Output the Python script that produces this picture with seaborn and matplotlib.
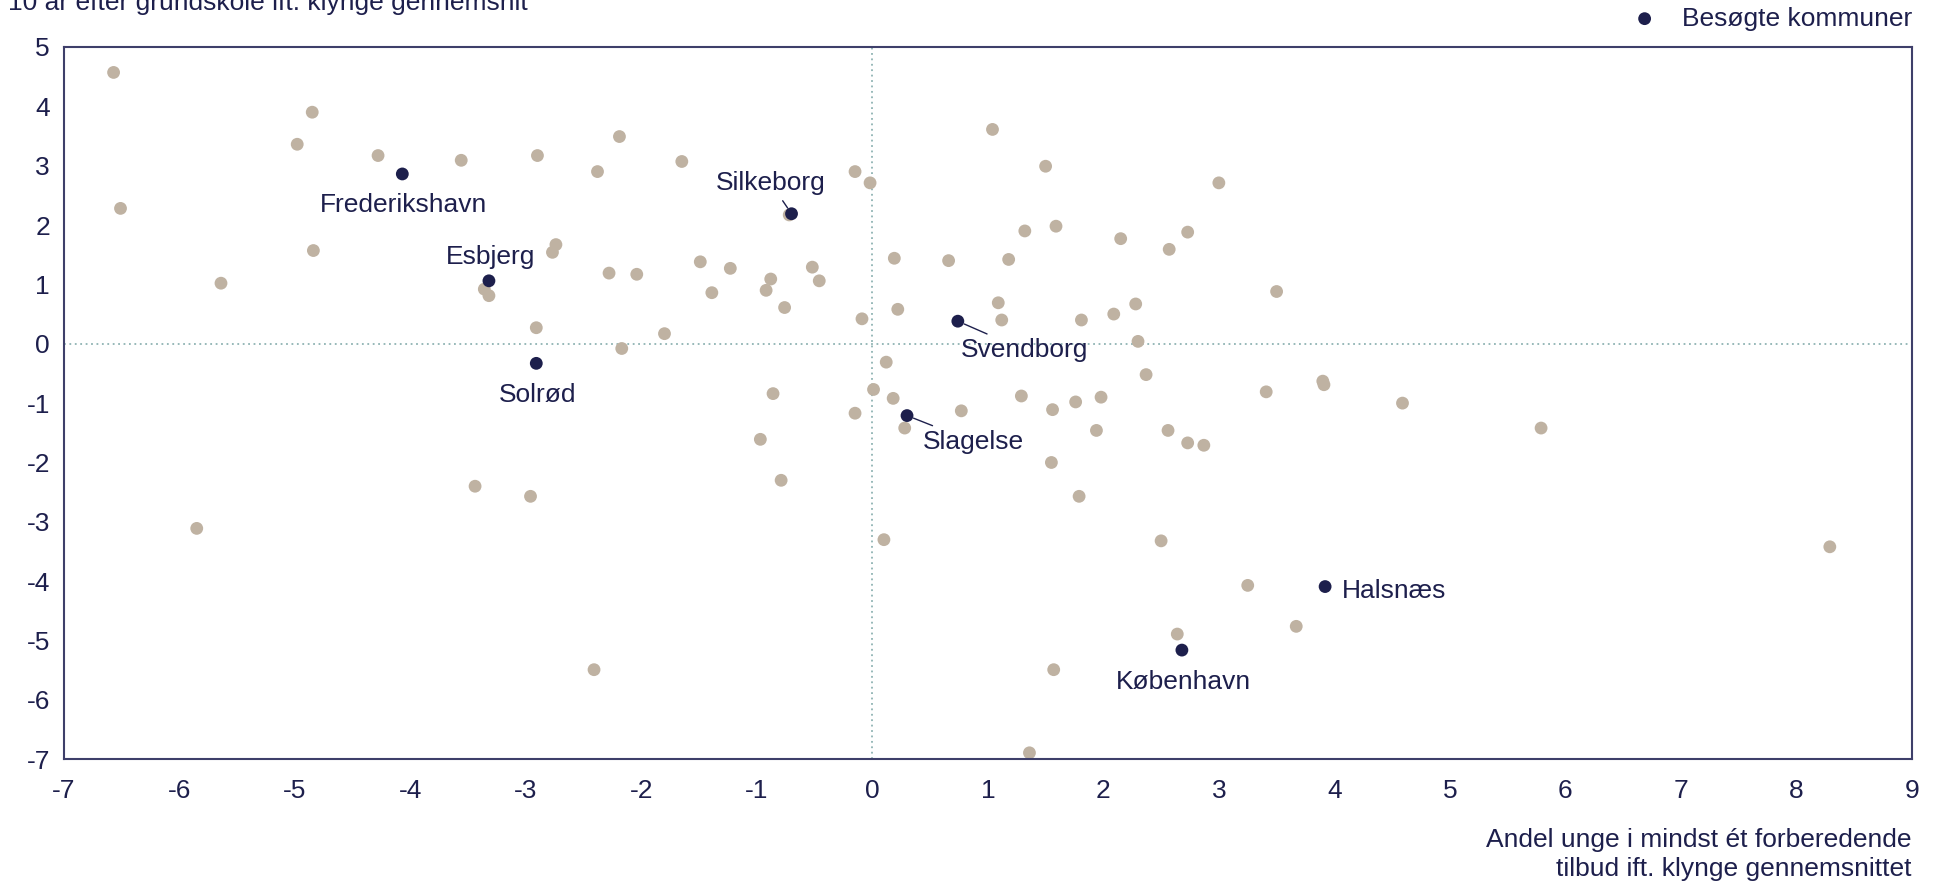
import pandas as pd
import matplotlib.pyplot as plt
import seaborn as sns

# Andel unge i forberedende tilbud (x) vs. uddannelse/job 10 år efter (y), ift. klynge gennemsnit
other_x = [-6.57, -6.51, -5.64, -5.85, -4.98, -4.85, -4.84, -4.28, -3.56, -3.36,
           -3.32, -3.44, -2.90, -2.91, -2.96, -2.77, -2.74, -2.38, -2.28, -2.19,
           -2.17, -2.04, -2.41, -1.80, -1.65, -1.49, -1.39, -1.23, -0.97, -0.92,
           -0.88, -0.86, -0.79, -0.76, -0.72, -0.52, -0.46, -0.15, -0.09, -0.15,
           -0.02, 0.01, 0.10, 0.12, 0.18, 0.19, 0.22, 0.28, 0.66, 0.77,
           1.04, 1.09, 1.12, 1.18, 1.29, 1.32, 1.50, 1.55, 1.56, 1.59,
           1.57, 1.36, 1.76, 1.79, 1.81, 1.94, 1.98, 2.09, 2.15, 2.28,
           2.30, 2.37, 2.50, 2.57, 2.56, 2.64, 2.73, 2.73, 2.87, 3.00,
           3.25, 3.41, 3.50, 3.67, 3.90, 3.91, 4.59, 5.79, 8.29]
other_y = [4.57, 2.28, 1.02, -3.11, 3.36, 3.90, 1.57, 3.17, 3.09, 0.92,
           0.81, -2.40, 3.17, 0.27, -2.57, 1.54, 1.67, 2.90, 1.19, 3.49,
           -0.08, 1.17, -5.49, 0.17, 3.07, 1.38, 0.86, 1.27, -1.61, 0.90,
           1.09, -0.84, -2.30, 0.61, 2.17, 1.29, 1.06, 2.90, 0.42, -1.17,
           2.71, -0.77, -3.30, -0.31, -0.92, 1.44, 0.58, -1.42, 1.40, -1.13,
           3.61, 0.69, 0.40, 1.42, -0.88, 1.90, 2.99, -2.00, -1.11, 1.98,
           -5.49, -6.89, -0.98, -2.57, 0.40, -1.46, -0.90, 0.50, 1.77, 0.67,
           0.04, -0.52, -3.32, 1.59, -1.46, -4.89, -1.67, 1.88, -1.71, 2.71,
           -4.07, -0.81, 0.88, -4.76, -0.63, -0.69, -1.00, -1.42, -3.42]

visited_names = ["Frederikshavn", "Esbjerg", "Solrød", "Silkeborg",
                 "Svendborg", "Slagelse", "Halsnæs", "København"]
visited_x = [-4.07, -3.32, -2.91, -0.70, 0.74, 0.30, 3.92, 2.68]
visited_y = [2.86, 1.06, -0.33, 2.19, 0.38, -1.21, -4.09, -5.16]

x_ticks = list(range(-7, 10))
y_ticks = list(range(-7, 6))

NAVY = "#1d1f4c"
GREY = "#bfb2a2"
SPINE = "#3e3f6a"
REF = "#8fb3b3"
FS = 19

sns.set_theme(style="white")
plt.rcParams["font.family"] = ["Liberation Sans", "DejaVu Sans"]
plt.rcParams["axes.unicode_minus"] = False

df_other = pd.DataFrame({"x": other_x, "y": other_y})
df_visited = pd.DataFrame({"x": visited_x, "y": visited_y, "navn": visited_names})

fig, ax = plt.subplots(figsize=(19.37, 8.85), dpi=100)
fig.subplots_adjust(left=0.033, right=0.987, top=0.947, bottom=0.142)

ax.axhline(0, color=REF, lw=1.3, ls=(0, (1, 2)), zorder=1)
ax.axvline(0, color=REF, lw=1.3, ls=(0, (1, 2)), zorder=1)

sns.scatterplot(data=df_other, x="x", y="y", color=GREY, s=85,
                edgecolor="none", ax=ax, zorder=2)
sns.scatterplot(data=df_visited, x="x", y="y", color=NAVY, s=85,
                edgecolor="none", ax=ax, zorder=3, label="Besøgte kommuner")

# label offsets (points) and whether a leader line is drawn
offsets = {
    "Frederikshavn": ((1, -22), False),
    "Esbjerg": ((1, 17), False),
    "Solrød": ((1, -23), False),
    "Silkeborg": ((-15, 22), True),
    "Svendborg": ((48, -21), True),
    "Slagelse": ((48, -19), True),
    "Halsnæs": ((50, -3), False),
    "København": ((1, -23), False),
}
for _, row in df_visited.iterrows():
    (dx, dy), line = offsets[row["navn"]]
    ax.annotate(row["navn"], (row["x"], row["y"]), xytext=(dx, dy),
                textcoords="offset points", ha="center", va="center",
                fontsize=FS, color=NAVY,
                arrowprops=dict(arrowstyle="-", color=NAVY, lw=1,
                                shrinkA=2, shrinkB=5) if line else None)

ax.set_xlim(-7, 9)
ax.set_ylim(-7, 5)
ax.set_xticks(x_ticks)
ax.set_yticks(y_ticks)
ax.tick_params(axis="both", direction="out", length=6, width=1.2,
               color=SPINE, labelsize=FS, labelcolor=NAVY, pad=8)
ax.tick_params(axis="y", pad=4)
for side in ax.spines.values():
    side.set_color(SPINE)
    side.set_linewidth(1.5)

ax.set_xlabel("")
ax.set_ylabel("")
fig.text(0.987, 0.004, "Andel unge i mindst ét forberedende\ntilbud ift. klynge gennemsnittet",
         ha="right", va="bottom", fontsize=FS, color=NAVY, linespacing=1.3)
fig.text(0.004, 0.998, "10 år efter grundskole ift. klynge gennemsnit",
         ha="left", va="center", fontsize=FS, color=NAVY)

ax.legend(loc="center right", bbox_to_anchor=(0.987, 0.979),
          bbox_transform=fig.transFigure, frameon=False, fontsize=FS,
          handletextpad=0.4, markerscale=1.0, labelcolor=NAVY,
          borderaxespad=0, borderpad=0)

fig.savefig("out.png", dpi=100)
